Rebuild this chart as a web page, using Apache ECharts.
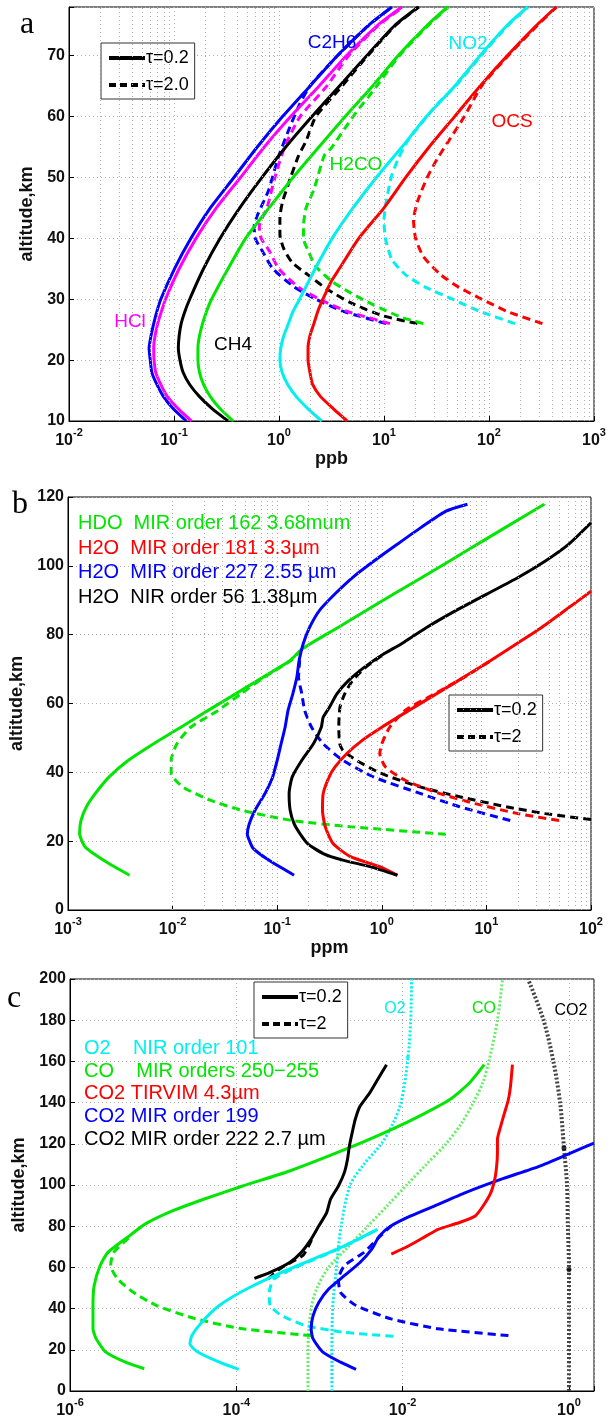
<!DOCTYPE html>
<html><head><meta charset="utf-8">
<script src="https://cdn.jsdelivr.net/npm/echarts@6/dist/echarts.min.js"></script>
<style>html,body{margin:0;padding:0;background:#fff}#c{width:612px;height:1420px}</style>
</head><body><div id="c"></div><script>
// ---------- Panel a (ppb vs altitude km) : [mixing ratio, altitude] ----------
const a_C2H6_t02 = [[0.131,10],[0.0984,12],[0.0794,14],[0.0687,16],[0.0615,18],[0.0594,20],[0.0579,22],[0.0604,24],[0.0641,26],[0.0687,28],[0.0748,30],[0.101,35],[0.145,40],[0.222,45],[0.372,50],[0.621,55],[1.08,60],[1.97,65],[3.60,70],[7.13,75],[11.9,78]];
const a_C2H6_t2 = [[10.5,26],[4.09,28],[2.24,30],[1.40,32],[0.875,35],[0.689,38],[0.594,40],[0.58,42],[0.63,44],[0.80,48],[0.97,53],[1.25,58],[1.57,62],[1.97,65],[3.60,70],[7.13,75],[11.9,78]];
const a_HCl_t02 = [[0.147,10],[0.110,12],[0.0865,14],[0.0748,16],[0.067,18],[0.0646,20],[0.0641,22],[0.066,24],[0.070,26],[0.0759,28],[0.083,30],[0.112,35],[0.162,40],[0.253,45],[0.43,50],[0.724,55],[1.29,60],[2.40,65],[4.38,70],[8.69,75],[14.8,78]];
const a_HCl_t2 = [[11.4,26],[4.46,28],[2.44,30],[1.53,32],[0.995,35],[0.804,38],[0.676,40],[0.649,42],[0.769,45],[0.914,50],[1.13,55],[1.59,60],[2.85,65],[4.6,70],[8.9,75],[15.2,78]];
const a_CH4_t02 = [[0.327,10],[0.232,12],[0.175,14],[0.141,16],[0.122,18],[0.114,20],[0.110,22],[0.112,24],[0.117,26],[0.127,28],[0.141,30],[0.191,35],[0.275,40],[0.423,45],[0.689,50],[1.16,55],[2.06,60],[3.75,65],[6.84,70],[12.7,75],[21.2,78]];
const a_CH4_t2 = [[20.8,26],[9.64,27.3],[4.85,29.4],[2.90,31.6],[1.89,34],[1.34,36],[1.11,38.3],[1.02,40.6],[1.02,43.4],[1.08,46],[1.18,48],[1.29,50],[1.53,53.5],[1.81,56],[2.24,60],[3.98,65],[7.0,70],[12.9,75],[21.5,78]];
const a_H2CO_t02 = [[0.366,10],[0.275,12],[0.222,14],[0.191,16],[0.175,18],[0.169,20],[0.169,22],[0.175,24],[0.187,26],[0.204,28],[0.228,30],[0.327,35],[0.481,40],[0.804,45],[1.36,50],[2.40,55],[4.27,60],[7.76,65],[13.6,70],[25.8,75],[40.3,78]];
const a_H2CO_t2 = [[23.7,26],[14.8,27],[8.11,29],[4.85,31],[3.16,33],[2.24,35.4],[1.89,38],[1.71,40],[1.71,42],[1.81,45],[2.15,48],[2.7,53.6],[3.2,55],[5.07,60],[8.51,65],[14.0,70],[26.5,75],[41,78]];
const a_NO2_t02 = [[2.55,10],[1.89,12],[1.46,14],[1.21,16],[1.07,18],[1.02,20],[1.04,22],[1.11,24],[1.23,26],[1.36,28],[1.57,30],[2.21,35],[3.21,40],[5.07,45],[8.47,50],[14.8,55],[25.4,60],[47.0,65],[82.0,70],[149,75],[233,78]];
const a_NO2_t2 = [[177,26],[82,28],[45,30],[24.7,32],[16.1,34],[11.9,36.5],[10.3,40],[10.0,43],[10.5,46],[11.7,50],[13.6,53],[16.8,56],[31.9,62],[48,65],[84,70],[152,75],[236,78]];
const a_OCS_t02 = [[4.46,10],[3.30,12],[2.49,14],[2.09,16],[1.97,18],[1.89,20],[1.89,22],[1.97,24],[2.15,26],[2.34,28],[2.62,30],[3.16,33],[3.75,35],[5.75,40],[10.0,45],[16.1,50],[26.9,55],[47.0,60],[82,65],[149,70],[284,75],[436,78]];
const a_OCS_t2 = [[323,26],[149,28],[85.5,30],[51.2,32],[34.8,34],[23.7,37],[20.0,40],[19.1,43],[20.8,46],[25.8,50],[32.0,53],[41.3,56],[58.2,60],[85,65],[152,70],[290,75],[440,78]];

// ---------- Panel b (ppm) ----------
const b_HDO_t02 = [[0.00388,10.1],[0.00246,13.5],[0.00175,16.4],[0.00145,18.4],[0.00129,22.2],[0.00133,26],[0.0015,30],[0.00182,33.8],[0.00246,38.6],[0.00378,43.5],[0.0066,48.3],[0.012,53.1],[0.0219,58],[0.04,62.8],[0.0729,67.6],[0.133,72.5],[0.172,75.8],[0.382,82.1],[0.708,87],[1.30,91.8],[2.42,96.6],[4.45,101.4],[8.24,106.3],[15.1,111.1],[35.7,117.9]];
const b_HDO_t2 = [[4.11,22],[0.502,24.2],[0.139,26],[0.0455,29],[0.0229,31.9],[0.0126,35.7],[0.0097,39.6],[0.0097,43.5],[0.011,48.3],[0.0149,53.1],[0.0272,58],[0.045,62.8],[0.075,67.6],[0.135,72.5],[0.172,75.8]];
const b_H2O227_t02 = [[0.145,10.1],[0.083,14.5],[0.0589,17.9],[0.054,20.3],[0.0518,22],[0.054,25],[0.0614,29],[0.0762,33.8],[0.0904,38.6],[0.1,43.5],[0.109,48.3],[0.119,53.1],[0.127,58],[0.141,62.8],[0.154,67.6],[0.162,72.5],[0.177,77.3],[0.204,82.1],[0.253,87],[0.356,91.8],[0.525,96.6],[0.841,101.4],[1.41,106.3],[2.36,111.1],[4.11,115.9],[6.59,117.9]];
const b_H2O227_t2 = [[16.9,26],[5.55,30],[2.36,33.8],[0.841,38.6],[0.424,43.5],[0.275,48.3],[0.213,53.1],[0.183,58],[0.172,62.8],[0.16,67.6],[0.164,72.5]];
const b_H2O56_t02 = [[1.41,10.1],[0.771,12.6],[0.424,14.5],[0.275,16.4],[0.195,19.3],[0.165,22.2],[0.145,25.1],[0.133,29],[0.130,33.8],[0.139,38.6],[0.172,43.5],[0.222,48.3],[0.264,53.1],[0.275,56],[0.316,58.9],[0.372,62.8],[0.482,66.7],[0.679,70.5],[1.04,74.4],[1.53,77.3],[2.68,82.1],[5.09,87],[10.1,91.8],[20.1,96.6],[36.6,101.4],[61.4,106.3],[100,112.5]];
const b_H2O56_t2 = [[100,26.3],[36.6,28],[15.5,30],[5.55,32.9],[2.36,35.7],[1.0,39.6],[0.571,43.5],[0.424,46.4],[0.396,48.3],[0.388,53.1],[0.398,58.9],[0.442,62.8],[0.525,66.7],[0.70,70.5],[1.05,74.4]];
const b_H2O181_t02 = [[1.41,10.1],[0.957,12.6],[0.502,15.5],[0.342,19.3],[0.288,24.2],[0.271,29],[0.275,33.8],[0.313,38.6],[0.356,41.5],[0.461,45.4],[0.65,49.3],[1.0,53.1],[1.82,58],[3.32,62.8],[6.05,67.6],[11.0,72.5],[19.3,77.3],[33.7,82.1],[56.2,87],[100,92.6]];
const b_H2O181_t2 = [[49.4,26],[20.1,28],[7.82,30.9],[3.61,33.8],[1.67,37.7],[1.09,41.5],[0.957,45.4],[1.0,48.3],[1.19,53.1],[1.67,58],[3.2,62.8],[6.1,67.6],[11.1,72.5]];

// ---------- Panel c (ppm) ----------
const c_CO_t02 = [[7.82e-6,10.8],[4.65e-6,14],[2.70e-6,18.9],[2.07e-6,25.3],[1.89e-6,30.2],[1.89e-6,41.5],[1.95e-6,51.1],[2.30e-6,60.8],[2.86e-6,67.3],[5.18e-6,75.3],[7.98e-6,81],[1.70e-5,87.4],[4.05e-5,93.1],[1.19e-4,99.5],[4.38e-4,106.8],[2.29e-3,118.1],[7.30e-3,126.9],[0.0173,134.2],[0.037,141.5],[0.0635,149.5],[0.0957,158.4]];
const c_CO_t2 = [[7.94e-4,26.9],[1.19e-4,30.2],[3.26e-5,35],[1.10e-5,41.5],[5.77e-6,47.9],[3.74e-6,54.4],[3.08e-6,60.8],[3.36e-6,67.3],[5.4e-6,75.3]];
const c_O2_t02 = [[1.07e-4,10.5],[6.24e-5,14],[3.44e-5,18.9],[2.77e-5,22.9],[2.92e-5,26.9],[3.84e-5,33.4],[6.24e-5,41.5],[1.33e-4,49.5],[3.52e-4,57.6],[8.38e-4,64],[1.99e-3,70.5],[4.99e-3,78.5]];
const c_O2_t2 = [[7.69e-3,26.6],[1.99e-3,28.5],[6.75e-4,31.8],[3.52e-4,36.6],[2.55e-4,41.5],[2.49e-4,47.9],[2.84e-4,54.4],[5.73e-4,60.8],[8.86e-4,64],[2.05e-3,70.5],[5.0e-3,78.5]];
const c_CO2_199_t02 = [[2.75e-3,10.5],[1.79e-3,14],[1.10e-3,18.9],[8.38e-4,25.3],[7.94e-4,30.2],[8.38e-4,36.6],[9.84e-4,43.1],[1.29e-3,49.5],[1.99e-3,56],[3.07e-3,62.4],[4.25e-3,68.9],[5.27e-3,75.3],[7.30e-3,80.2],[0.0125,85],[0.024,89.8],[0.057,96.3],[0.151,102.7],[0.445,109.2],[1.06,115.6],[2.0,120.3]];
const c_CO2_199_t2 = [[0.187,26.9],[0.0267,30.2],[7.30e-3,35],[2.75e-3,41.5],[1.79e-3,47.9],[1.69e-3,54.4],[1.99e-3,60.8],[3.42e-3,67.3],[5.4e-3,75.3],[7.3e-3,80.2]];
const c_CO2_222_t02 = [[1.65e-4,54.7],[2.55e-4,57.6],[4.38e-4,62.4],[6.05e-4,67.3],[7.94e-4,73.7],[9.84e-4,80.2],[1.22e-3,86.6],[1.36e-3,93.1],[1.69e-3,99.5],[1.99e-3,106],[2.17e-3,112.4],[2.29e-3,118.9],[2.47e-3,125.3],[2.69e-3,131.8],[3.07e-3,138.2],[4.02e-3,144.7],[4.99e-3,151.1],[6.40e-3,158.4]];
const c_CO2_222_t2 = [[2.41e-4,54.4],[3.52e-4,60],[6.38e-4,66],[8.1e-4,73.7]];
const c_CO2_TIRVIM = [[7.30e-3,66.5],[0.0119,70.5],[0.0193,75.3],[0.0267,78.5],[0.0484,81.8],[0.0746,85],[0.0927,89.8],[0.115,96.3],[0.128,102.7],[0.135,109.2],[0.138,115.6],[0.138,122.1],[0.151,128.5],[0.168,135],[0.187,141.5],[0.198,147.9],[0.209,158.4]];
const c_O2_apriori = [[1.41e-3,0],[1.41e-3,20],[1.44e-3,40],[1.60e-3,60],[1.82e-3,80],[2.34e-3,100],[3.42e-3,110],[5.56e-3,120],[7.69e-3,130],[9.55e-3,140],[0.0115,160],[0.0125,180],[0.0128,200]];
const c_CO_apriori = [[7.28e-4,0],[7.28e-4,20],[7.94e-4,40],[9.33e-4,50],[1.29e-3,60],[2.22e-3,70],[3.81e-3,80],[6.55e-3,90],[0.0112,100],[0.0193,110],[0.0332,120],[0.0512,130],[0.0708,140],[0.0927,150],[0.109,160],[0.138,180],[0.159,200]];
const c_CO2_apriori = [[1.0,0],[1.0,40],[1.0,60],[0.97,80],[0.948,100],[0.871,118],[0.782,140],[0.650,160],[0.495,180],[0.322,200]];
const c_apriori_dots_black = [[1.0,59],[0.871,118]];
const c_apriori_dots_cyan = [[0.0115,162]];

// ---------- axis tick values ----------
const minorMult = [2,3,4,5,6,7,8,9];
const decadesA = [-2,-1,0,1,2];
const decadesB = [-3,-2,-1,0,1];

// ---------- build ----------
const BLUE='#0000ff', MAG='#ff00ff', BLK='#000000', GRN='#00e600', CYN='#00f0f0', RED='#ff0000';
const FONT = 'Liberation Sans, Arial, Helvetica, sans-serif';
const DASH = [8,5];

function ln(data, color, dashed, idx, z) {
  return {type:'line', xAxisIndex:idx, yAxisIndex:idx, data:data, symbol:'none', showSymbol:false,
    smooth:0.2, silent:true, animation:false, z: z || (dashed?3:4),
    lineStyle:{color:color, width:3, type: dashed?DASH:'solid'}, itemStyle:{color:color}};
}
function dotted(data, color, idx, w) {
  return {type:'line', xAxisIndex:idx, yAxisIndex:idx, data:data, symbol:'none', showSymbol:false,
    smooth:0.3, silent:true, animation:false, z:2,
    lineStyle:{color:color, width:w||3, type:[2,2]}, itemStyle:{color:color}};
}
function minorGrid(decades, idx) {
  const vals = [];
  decades.forEach(function(d){ minorMult.forEach(function(m){ vals.push({xAxis: m*Math.pow(10,d)}); }); });
  return {type:'line', xAxisIndex:idx, yAxisIndex:idx, data:[], silent:true, animation:false, z:1,
    markLine:{silent:true, symbol:['none','none'], label:{show:false}, animation:false,
      lineStyle:{type:[1,3], color:'#b0b0b0', width:1}, emphasis:{disabled:true}, data:vals}};
}
function legendSeries(name, dashed, idx) {
  return {type:'line', name:name, xAxisIndex:idx, yAxisIndex:idx, data:[], symbol:'none',
    lineStyle:{color:BLK, width:4, type: dashed?[7,4]:'solid'}, itemStyle:{color:BLK}, animation:false};
}
function isPow10(v){ const l=Math.log10(v); return Math.abs(l-Math.round(l))<1e-6; }
function logLabel(v){ if(!isPow10(v)) return ''; const e=Math.round(Math.log10(v)); return '{b|10}{s|'+(e<0?'-'+(-e):e)+'}'; }
const xLabel = {formatter:logLabel, margin:6, color:BLK,
  rich:{b:{fontSize:16, fontWeight:'bold', fontFamily:FONT, color:'#111', lineHeight:22, verticalAlign:'bottom'},
        s:{fontSize:11, fontWeight:'bold', fontFamily:FONT, color:'#111', lineHeight:8, verticalAlign:'top'}}};
const gridLine = {show:true, lineStyle:{type:[1,3], color:'#b0b0b0', width:1}};
function xAx(idx, min, max, name, interval) {
  const o = {type:'log', logBase:10, gridIndex:idx, min:min, max:max,
    axisLine:{show:true, lineStyle:{color:BLK, width:1}}, axisTick:{show:true, inside:true, length:5, lineStyle:{color:BLK}},
    axisLabel:xLabel, splitLine:gridLine, minorTick:{show:false},
    name:name, nameLocation:'middle', nameGap:28, nameTextStyle:{fontSize:18, fontWeight:'bold', fontFamily:FONT, color:'#111'}};
  if (interval) o.interval = interval;
  return o;
}
function yAx(idx, min, max, interval, gap) {
  return {type:'value', gridIndex:idx, min:min, max:max, interval:interval,
    axisLine:{show:true, lineStyle:{color:BLK, width:1}}, axisTick:{show:true, inside:true, length:5, lineStyle:{color:BLK}},
    axisLabel:{fontSize:16, fontWeight:'bold', fontFamily:FONT, color:'#111', margin:4, formatter:function(v){return (v % interval===0)? String(v):'';}},
    splitLine:gridLine,
    name:'altitude,km', nameLocation:'middle', nameGap:gap, nameTextStyle:{fontSize:18, fontWeight:'bold', fontFamily:FONT, color:'#111'}};
}
function legendBox(names, left, top) {
  return {data:names, orient:'vertical', left:left, top:top, itemWidth:36, itemHeight:14, itemGap:9,
    padding:[6,6,5,6], borderColor:'#333', borderWidth:1, backgroundColor:'#fff', selectedMode:false,
    itemStyle:{opacity:0}, lineStyle:{width:4},
    textStyle:{fontSize:18, fontFamily:FONT, color:BLK, padding:[0,0,0,-4]}};
}
function txt(x, y, s, color, size, align, family) {
  return {type:'text', x:x, y:y, silent:true, z:100,
    style:{text:s, fill:color, fontSize:size, fontFamily:family||FONT, align:align||'center', verticalAlign:'middle'}};
}

const series = [
  minorGrid(decadesA, 0), minorGrid(decadesB, 1),
  ln(a_C2H6_t2, BLUE, true, 0), ln(a_HCl_t2, MAG, true, 0), ln(a_CH4_t2, BLK, true, 0),
  ln(a_H2CO_t2, GRN, true, 0), ln(a_NO2_t2, CYN, true, 0), ln(a_OCS_t2, RED, true, 0),
  ln(a_C2H6_t02, BLUE, false, 0), ln(a_HCl_t02, MAG, false, 0), ln(a_CH4_t02, BLK, false, 0),
  ln(a_H2CO_t02, GRN, false, 0), ln(a_NO2_t02, CYN, false, 0), ln(a_OCS_t02, RED, false, 0),
  ln(b_HDO_t2, GRN, true, 1), ln(b_H2O227_t2, BLUE, true, 1), ln(b_H2O56_t2, BLK, true, 1), ln(b_H2O181_t2, RED, true, 1),
  ln(b_HDO_t02, GRN, false, 1), ln(b_H2O227_t02, BLUE, false, 1), ln(b_H2O181_t02, RED, false, 1), ln(b_H2O56_t02, BLK, false, 1),
  dotted(c_O2_apriori, CYN, 2), dotted(c_CO_apriori, '#66ee66', 2), dotted(c_CO2_apriori, '#444444', 2, 4),
  {type:'scatter', xAxisIndex:2, yAxisIndex:2, data:c_apriori_dots_black, symbolSize:5, itemStyle:{color:BLK}, silent:true, animation:false, z:5},
  {type:'scatter', xAxisIndex:2, yAxisIndex:2, data:c_apriori_dots_cyan, symbolSize:4, itemStyle:{color:CYN}, silent:true, animation:false, z:5},
  ln(c_CO_t2, GRN, true, 2), ln(c_O2_t2, CYN, true, 2), ln(c_CO2_199_t2, BLUE, true, 2), ln(c_CO2_222_t2, BLK, true, 2),
  ln(c_CO_t02, GRN, false, 2), ln(c_O2_t02, CYN, false, 2), ln(c_CO2_199_t02, BLUE, false, 2), ln(c_CO2_222_t02, BLK, false, 2),
  ln(c_CO2_TIRVIM, RED, false, 2),
  legendSeries('τ=0.2', false, 0), legendSeries('τ=2.0', true, 0), legendSeries('τ=2', true, 1)
];

const chart = echarts.init(document.getElementById('c'), null, {renderer:'canvas'});
chart.setOption({
  animation:false,
  backgroundColor:'#fff',
  grid:[
    {left:69, top:7, width:525, height:414, show:true, borderColor:BLK, borderWidth:1, backgroundColor:'transparent', outerBoundsMode:'none'},
    {left:68, top:497, width:523, height:413, show:true, borderColor:BLK, borderWidth:1, backgroundColor:'transparent', outerBoundsMode:'none'},
    {left:70, top:979, width:524, height:412, show:true, borderColor:BLK, borderWidth:1, backgroundColor:'transparent', outerBoundsMode:'none'}
  ],
  xAxis:[ xAx(0, 0.01, 1000, 'ppb'), xAx(1, 0.001, 100, 'ppm'), xAx(2, 1e-6, 2, '', 2) ],
  yAxis:[ yAx(0, 10, 78, 10, 26), yAx(1, 0, 120, 20, 37), yAx(2, 0, 200, 20, 36) ],
  legend:[ legendBox(['τ=0.2','τ=2.0'], 101, 43), legendBox(['τ=0.2','τ=2'], 449, 695), legendBox(['τ=0.2','τ=2'], 254, 982) ],
  series:series,
  graphic:[
    txt(27, 25, 'a', BLK, 32, 'center', 'Liberation Serif, Times New Roman, serif'),
    txt(20, 505, 'b', BLK, 32, 'center', 'Liberation Serif, Times New Roman, serif'),
    txt(14, 999, 'c', BLK, 32, 'center', 'Liberation Serif, Times New Roman, serif'),
    txt(332, 43, 'C2H6', BLUE, 19), txt(468, 44, 'NO2', CYN, 19), txt(512, 122, 'OCS', RED, 19),
    txt(356, 165, 'H2CO', GRN, 19), txt(130, 322, 'HCl', MAG, 19), txt(233, 345, 'CH4', BLK, 19),
    txt(78, 523, 'HDO  MIR order 162 3.68mum', GRN, 20, 'left'),
    txt(78, 548, 'H2O  MIR order 181 3.3µm', RED, 20, 'left'),
    txt(78, 572, 'H2O  MIR order 227 2.55 µm', BLUE, 20, 'left'),
    txt(78, 597, 'H2O  NIR order 56 1.38µm', BLK, 20, 'left'),
    txt(84, 1048, 'O2    NIR order 101', CYN, 20, 'left'),
    txt(84, 1071, 'CO    MIR orders 250−255', GRN, 20, 'left'),
    txt(84, 1093, 'CO2 TIRVIM 4.3µm', RED, 20, 'left'),
    txt(84, 1116, 'CO2 MIR order 199', BLUE, 20, 'left'),
    txt(84, 1139, 'CO2 MIR order 222 2.7 µm', BLK, 20, 'left'),
    txt(395, 1009, 'O2', CYN, 16), txt(484, 1009, 'CO', GRN, 16), txt(571, 1011, 'CO2', BLK, 16)
  ]
});
</script></body></html>
